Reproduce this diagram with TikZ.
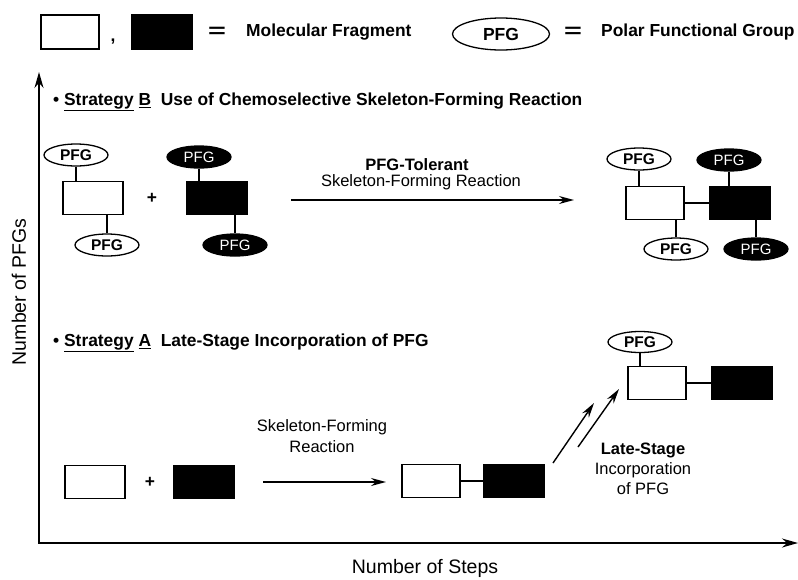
\documentclass[tikz,border=0pt]{standalone}
\usepackage{fontspec}
\usepackage{graphicx}
\setmainfont{Liberation Sans}
\usepackage{tikz}
\usetikzlibrary{arrows.meta,shapes.geometric,calc}

\tikzset{
  frag/.style={draw=black,line width=1.6pt,minimum width=60pt,minimum height=33pt,inner sep=0pt},
  wfrag/.style={frag,fill=white},
  bfrag/.style={frag,fill=black},
  pfg/.style={ellipse,draw=black,line width=1.3pt,minimum width=64pt,minimum height=22pt,inner sep=0pt},
  wpfg/.style={pfg,fill=white,font=\fontsize{15.5}{17}\selectfont\bfseries},
  bpfg/.style={pfg,fill=black,text=white,font=\fontsize{15}{17}\selectfont},
  bond/.style={line width=1.4pt},
  rxn/.style={line width=1.4pt,-{Stealth[length=15pt,width=8pt]}},
  axis/.style={line width=1.8pt,{Stealth[length=16pt,width=9pt]}-{Stealth[length=16pt,width=9pt]}},
  lbl/.style={font=\fontsize{16.5}{20}\selectfont,align=center,inner sep=0pt},
  head/.style={font=\fontsize{17.4}{20}\selectfont\bfseries,inner sep=0pt,anchor=west},
}

\begin{document}
\begin{tikzpicture}[x=1pt,y=-1pt]
  \useasboundingbox (0,0) rectangle (798,579);

  % legend
  \node[wfrag,minimum width=58pt,minimum height=34pt] (keyW) at (70,32) {};
  \node[head,anchor=center] (comma) at (113,42) {,};
  \node[bfrag,minimum width=61pt,minimum height=34pt] (keyB) at (162,32) {};
  \node[inner sep=0pt] (eqA) at (217,32) {\scalebox{1.7}[1.1]{\fontsize{18}{20}\selectfont\bfseries =}};
  \node[head] (keyMF) at (246,32) {Molecular Fragment};
  \node[pfg,minimum width=97pt,minimum height=32pt,font=\fontsize{17.5}{20}\selectfont\bfseries] (keyP) at (501,34) {PFG};
  \node[inner sep=0pt] (eqB) at (573,32) {\scalebox{1.7}[1.1]{\fontsize{18}{20}\selectfont\bfseries =}};
  \node[head] (keyPFG) at (601,32) {Polar Functional Group};

  % axes
  \coordinate (origin) at (39,543);
  \coordinate (ytop) at (39,72);
  \coordinate (xend) at (798,543);
  \draw[axis] (ytop) -- (origin) -- (xend);
  \node[rotate=90,font=\fontsize{19.5}{22}\selectfont] (ylab) at (19,292) {Number of PFGs};
  \node[font=\fontsize{19.5}{22}\selectfont] (xlab) at (425,568) {Number of Steps};

  % strategy B
  \node[head] (stratB) at (53,102) {\textbullet\ \underline{Strategy}~\underline{B}\ \ Use of Chemoselective Skeleton-Forming Reaction};

  \node[wfrag] (wB1) at (93,198) {};
  \node[wpfg] (pW1) at (76,155) {PFG};
  \node[wpfg] (pW2) at (107,245) {PFG};
  \draw[bond] (pW1.south) -- (pW1.south |- wB1.north);
  \draw[bond] (pW2.north |- wB1.south) -- (pW2.north);
  \node[head,anchor=center] (plusB) at (152,198) {+};
  \node[bfrag] (bB1) at (217,198) {};
  \node[bpfg] (pB1) at (199,157) {PFG};
  \node[bpfg] (pB2) at (235,245) {PFG};
  \draw[bond] (pB1.south) -- (pB1.south |- bB1.north);
  \draw[bond] (pB2.north |- bB1.south) -- (pB2.north);

  \coordinate (rxnB1) at (291,200);
  \coordinate (rxnB2) at (574,200);
  \draw[rxn] (rxnB1) -- (rxnB2);
  \node[lbl,font=\fontsize{16.5}{20}\selectfont\bfseries] (tolB) at (417,165) {PFG-Tolerant};
  \node[lbl] (sfrB) at (421,182) {Skeleton-Forming Reaction};

  \node[wfrag,minimum width=58pt] (wB2) at (655,203) {};
  \node[bfrag,minimum width=61pt] (bB2) at (740,203) {};
  \draw[bond] (wB2) -- (bB2);
  \node[wpfg] (pW3) at (639,159) {PFG};
  \node[bpfg] (pB3) at (729,160) {PFG};
  \node[wpfg] (pW4) at (676,249) {PFG};
  \node[bpfg] (pB4) at (756,249) {PFG};
  \draw[bond] (pW3.south) -- (pW3.south |- wB2.north);
  \draw[bond] (pB3.south) -- (pB3.south |- bB2.north);
  \draw[bond] (pW4.north |- wB2.south) -- (pW4.north);
  \draw[bond] (pB4.north |- bB2.south) -- (pB4.north);

  % strategy A
  \node[head] (stratA) at (53,343) {\textbullet\ \underline{Strategy}~\underline{A}\ \ Late-Stage Incorporation of PFG};

  \node[wfrag] (wA1) at (95,482) {};
  \node[head,anchor=center] (plusA) at (150,482) {+};
  \node[bfrag] (bA1) at (204,482) {};
  \coordinate (rxnA1) at (263,482);
  \coordinate (rxnA2) at (386,482);
  \draw[rxn] (rxnA1) -- (rxnA2);
  \node[lbl] (sfrA) at (322,436) {Skeleton-Forming\\[1pt]Reaction};

  \node[wfrag,minimum width=58pt] (wA2) at (431,481) {};
  \node[bfrag,minimum width=61pt] (bA2) at (514,481) {};
  \draw[bond] (wA2) -- (bA2);

  \coordinate (lsA1) at (553,463);
  \coordinate (lsA2) at (594,403);
  \coordinate (lsB1) at (578,447);
  \coordinate (lsB2) at (619,389);
  \draw[rxn] (lsA1) -- (lsA2);
  \draw[rxn] (lsB1) -- (lsB2);
  \node[lbl] (lsLbl) at (643,469) {\textbf{Late-Stage}\\Incorporation\\of PFG};

  \node[wfrag,minimum width=58pt] (wA3) at (657,383) {};
  \node[bfrag,minimum width=61pt] (bA3) at (742,383) {};
  \draw[bond] (wA3) -- (bA3);
  \node[wpfg,minimum height=21pt] (pA) at (640,342) {PFG};
  \draw[bond] (pA.south) -- (pA.south |- wA3.north);
\end{tikzpicture}
\end{document}
